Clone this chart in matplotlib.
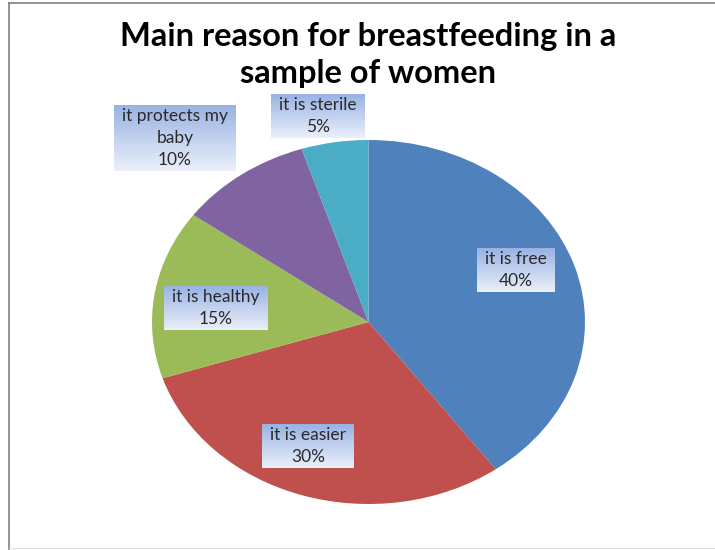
import numpy as np
import matplotlib
matplotlib.use('Agg')
import matplotlib.pyplot as plt
from matplotlib.lines import Line2D

reasons = ['it is free', 'it is easier', 'it is healthy', 'it protects my\nbaby', 'it is sterile']
shares = [40, 30, 15, 10, 5]
colors = ['#4F81BD', '#C0504D', '#9BBB59', '#8064A2', '#4BACC6']
# label box centres in figure pixels (from top-left)
label_pos = [(516, 270), (308, 446), (216, 308), (175, 138), (318, 116)]

W, H = 715, 550
plt.rcParams['font.family'] = ['Lato', 'DejaVu Sans']
fig = plt.figure(figsize=(W/100, H/100), dpi=100)

# pie is stretched into an ellipse like the Excel original
ax = fig.add_axes([152/W, 46/H, 433/W, 364/H])
ax.pie(shares, colors=colors, startangle=90, counterclock=False, radius=1)
ax.set_aspect('auto')
ax.set_xlim(-1, 1)
ax.set_ylim(-1, 1)
ax.axis('off')

fig.text(368/W, 1 - 55/H, 'Main reason for breastfeeding in a\nsample of women',
         ha='center', va='center', fontsize=23.5, fontweight='bold', linespacing=1.3)

# gradient boxes behind the labels
grad = np.linspace(0, 1, 64).reshape(-1, 1)
top = np.array([0.60, 0.70, 0.89])
bot = np.array([0.92, 0.94, 0.98])
img = top + (bot - top) * grad[..., None]
img = img.reshape(64, 1, 3)

fs = 12.5
ls = 1.45
fig.canvas.draw()
renderer = fig.canvas.get_renderer()
for (lab, val, (px, py)) in zip(reasons, shares, label_pos):
    s = '%s\n%d%%' % (lab, val)
    t = fig.text(px/W, 1 - py/H, s, ha='center', va='center',
                 fontsize=fs, linespacing=ls)
    bb = t.get_window_extent(renderer)
    fig.texts.remove(t)
    padx, pady = 8, 3
    bax = fig.add_axes([(bb.x0 - padx)/W, (bb.y0 - pady)/H,
                        (bb.width + 2*padx)/W, (bb.height + 2*pady)/H], zorder=3)
    bax.imshow(img, aspect='auto', extent=[0, 1, 0, 1])
    bax.axis('off')
    bax.text(0.5, 0.5, s, ha='center', va='center', fontsize=fs, color='#2a2a2a',
             linespacing=ls, transform=bax.transAxes)

# frame lines at top and left
fig.add_artist(Line2D([9/W, 1], [1 - 3/H, 1 - 3/H], color='#808080', lw=1.2))
fig.add_artist(Line2D([9/W, 9/W], [0, 1 - 3/H], color='#808080', lw=1.2))
fig.add_artist(Line2D([9/W, 1], [2/H, 2/H], color='#e0e0e0', lw=0.8))

fig.savefig('out.png', dpi=100)
